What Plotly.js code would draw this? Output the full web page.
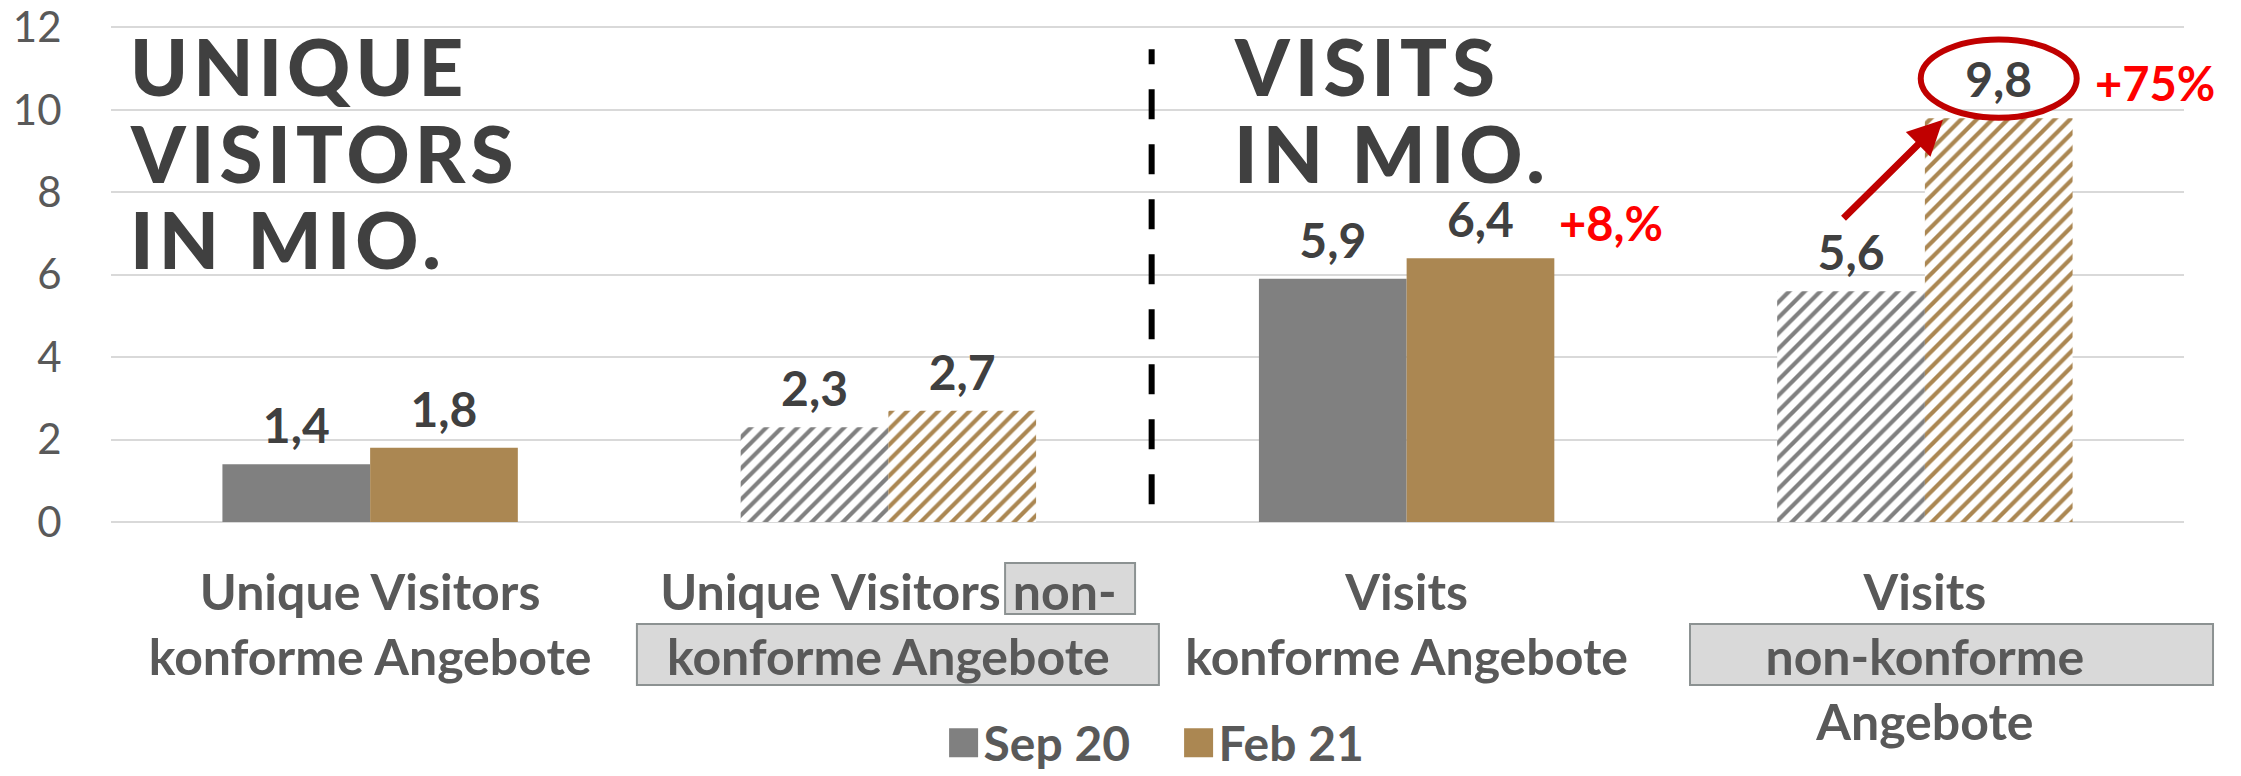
<!DOCTYPE html>
<html><head><meta charset="utf-8">
<script src="https://cdn.plot.ly/plotly-3.0.1.min.js"></script>
<style>
html,body{margin:0;padding:0;background:#fff;}
#chart{width:2241px;height:776px;}
text.annotation-text[style*="78px"]{letter-spacing:5px;}
</style></head><body><div id="chart"></div>
<script>
const categories = ['Unique Visitors<br>konforme Angebote', 'Unique Visitors non-<br>konforme Angebote', 'Visits<br>konforme Angebote', 'Visits<br>non-konforme<br>Angebote'];
const seriesNames = ['Sep 20', 'Feb 21'];
const sep20 = [1.4, 2.3, 5.9, 5.6];
const feb21 = [1.8, 2.7, 6.4, 9.8];
const hatch = ['', '/', '', '/'];
const yTicks = [0, 2, 4, 6, 8, 10, 12];
const seriesColors = ['#808080', '#AB8752'];

const fmt = v => v.toFixed(1).replace('.', ',');
const labelFont = {family: 'Lato', size: 48, color: '#404040', weight: 'bold'};

function barTrace(name, vals, color) {
  return {
    type: 'bar', name: name, x: categories, y: vals,
    text: vals.map(fmt), textposition: 'outside', cliponaxis: false, constraintext: 'none',
    textfont: labelFont,
    marker: {color: color, line: {width: 0},
      pattern: {shape: hatch, fgcolor: color, bgcolor: '#ffffff', size: 11, solidity: 0.38, fillmode: 'replace'}},
    hoverinfo: 'skip'
  };
}

const data = [barTrace(seriesNames[0], sep20, seriesColors[0]), barTrace(seriesNames[1], feb21, seriesColors[1])];

const titleFont = {family: 'Lato', size: 78, color: '#404040', weight: 900};
const redFont = {family: 'Lato', size: 47, color: '#FF0000', weight: 'bold'};
function title(txt, x, y) {
  return {text: txt, xref: 'paper', yref: 'paper', x: x, y: y, xanchor: 'left', yanchor: 'middle', align: 'left', showarrow: false, font: titleFont};
}
const boxStyle = {layer: 'below', fillcolor: '#d9d9d9', line: {color: '#8c9292', width: 2}};

const layout = {
  width: 2241, height: 776,
  margin: {l: 111, r: 57, t: 25, b: 254, autoexpand: false},
  paper_bgcolor: '#ffffff', plot_bgcolor: '#ffffff',
  barmode: 'group', bargap: 0.43, bargroupgap: 0,
  showlegend: true,
  legend: {orientation: 'h', x: 0.515, xanchor: 'center', y: -0.521, yanchor: 'bottom',
    entrywidth: 190, entrywidthmode: 'pixels',
    font: {family: 'Lato', size: 48, color: '#595959', weight: 'bold'}, itemclick: false, itemdoubleclick: false},
  xaxis: {type: 'category', range: [-0.5, 3.5], autorange: false, tickangle: 0, automargin: false, showgrid: false, zeroline: false, showline: false,
    ticks: 'outside', ticklen: 27, tickcolor: 'rgba(0,0,0,0)',
    tickfont: {family: 'Lato', size: 50, color: '#595959', weight: 'bold'}},
  yaxis: {range: [0, 12.06], autorange: false, tickvals: yTicks, ticktext: yTicks.map(String), automargin: false,
    ticklabeloverflow: 'allow',
    showgrid: true, gridcolor: '#d9d9d9', gridwidth: 2,
    zeroline: true, zerolinecolor: '#d9d9d9', zerolinewidth: 2, showline: false,
    ticks: 'outside', ticklen: 40, tickcolor: 'rgba(0,0,0,0)',
    tickfont: {family: 'Lato', size: 42, color: '#595959'}},
  shapes: [
    Object.assign({type: 'rect', xref: 'paper', yref: 'paper', x0: 0.4313, x1: 0.4940, y0: -0.0825, y1: -0.1851}, boxStyle),
    Object.assign({type: 'rect', xref: 'paper', yref: 'paper', x0: 0.2537, x1: 0.5055, y0: -0.2052, y1: -0.328}, boxStyle),
    Object.assign({type: 'rect', xref: 'paper', yref: 'paper', x0: 0.7617, x1: 1.014, y0: -0.2052, y1: -0.328}, boxStyle),
    {type: 'line', xref: 'paper', yref: 'paper', x0: 0.502, x1: 0.502, y0: 0.0358, y1: 0.951, line: {color: '#000000', width: 6, dash: '30px,25px'}},
    {type: 'circle', xref: 'x', yref: 'y', x0: 2.992, x1: 3.293, y0: 9.81, y1: 11.71, line: {color: '#C00000', width: 6}}
  ],
  annotations: [
    title('UNIQUE', 0.0082, 0.9173),
    title('VISITORS', 0.0082, 0.7421),
    title('IN MIO.', 0.0082, 0.5686),
    title('VISITS', 0.5408, 0.9173),
    title('IN MIO.', 0.5408, 0.7421),
    {text: '+8,%', xref: 'x', yref: 'y', x: 2.29, y: 7.26, xanchor: 'left', yanchor: 'middle', showarrow: false, font: redFont},
    {text: '+75%', xref: 'x', yref: 'y', x: 3.324, y: 10.66, xanchor: 'left', yanchor: 'middle', showarrow: false, font: redFont},
    {text: '', xref: 'x', yref: 'y', x: 3.035, y: 9.76, ax: -101, ay: 100, showarrow: true, arrowhead: 2, arrowsize: 1, arrowwidth: 7, arrowcolor: '#C00000', standoff: 0}
  ]
};

Plotly.newPlot('chart', data, layout, {staticPlot: true, displayModeBar: false}).then(() => {
  document.querySelectorAll('.legend .legendpoints path').forEach(p => p.setAttribute('d', 'M14.5,14.5H-14.5V-14.5H14.5Z'));
  document.querySelectorAll('.bars text.bartext').forEach(t => {
    const tr = t.getAttribute('transform') || '';
    t.setAttribute('transform', tr + ' translate(0,-8)');
  });
});
</script></body></html>
